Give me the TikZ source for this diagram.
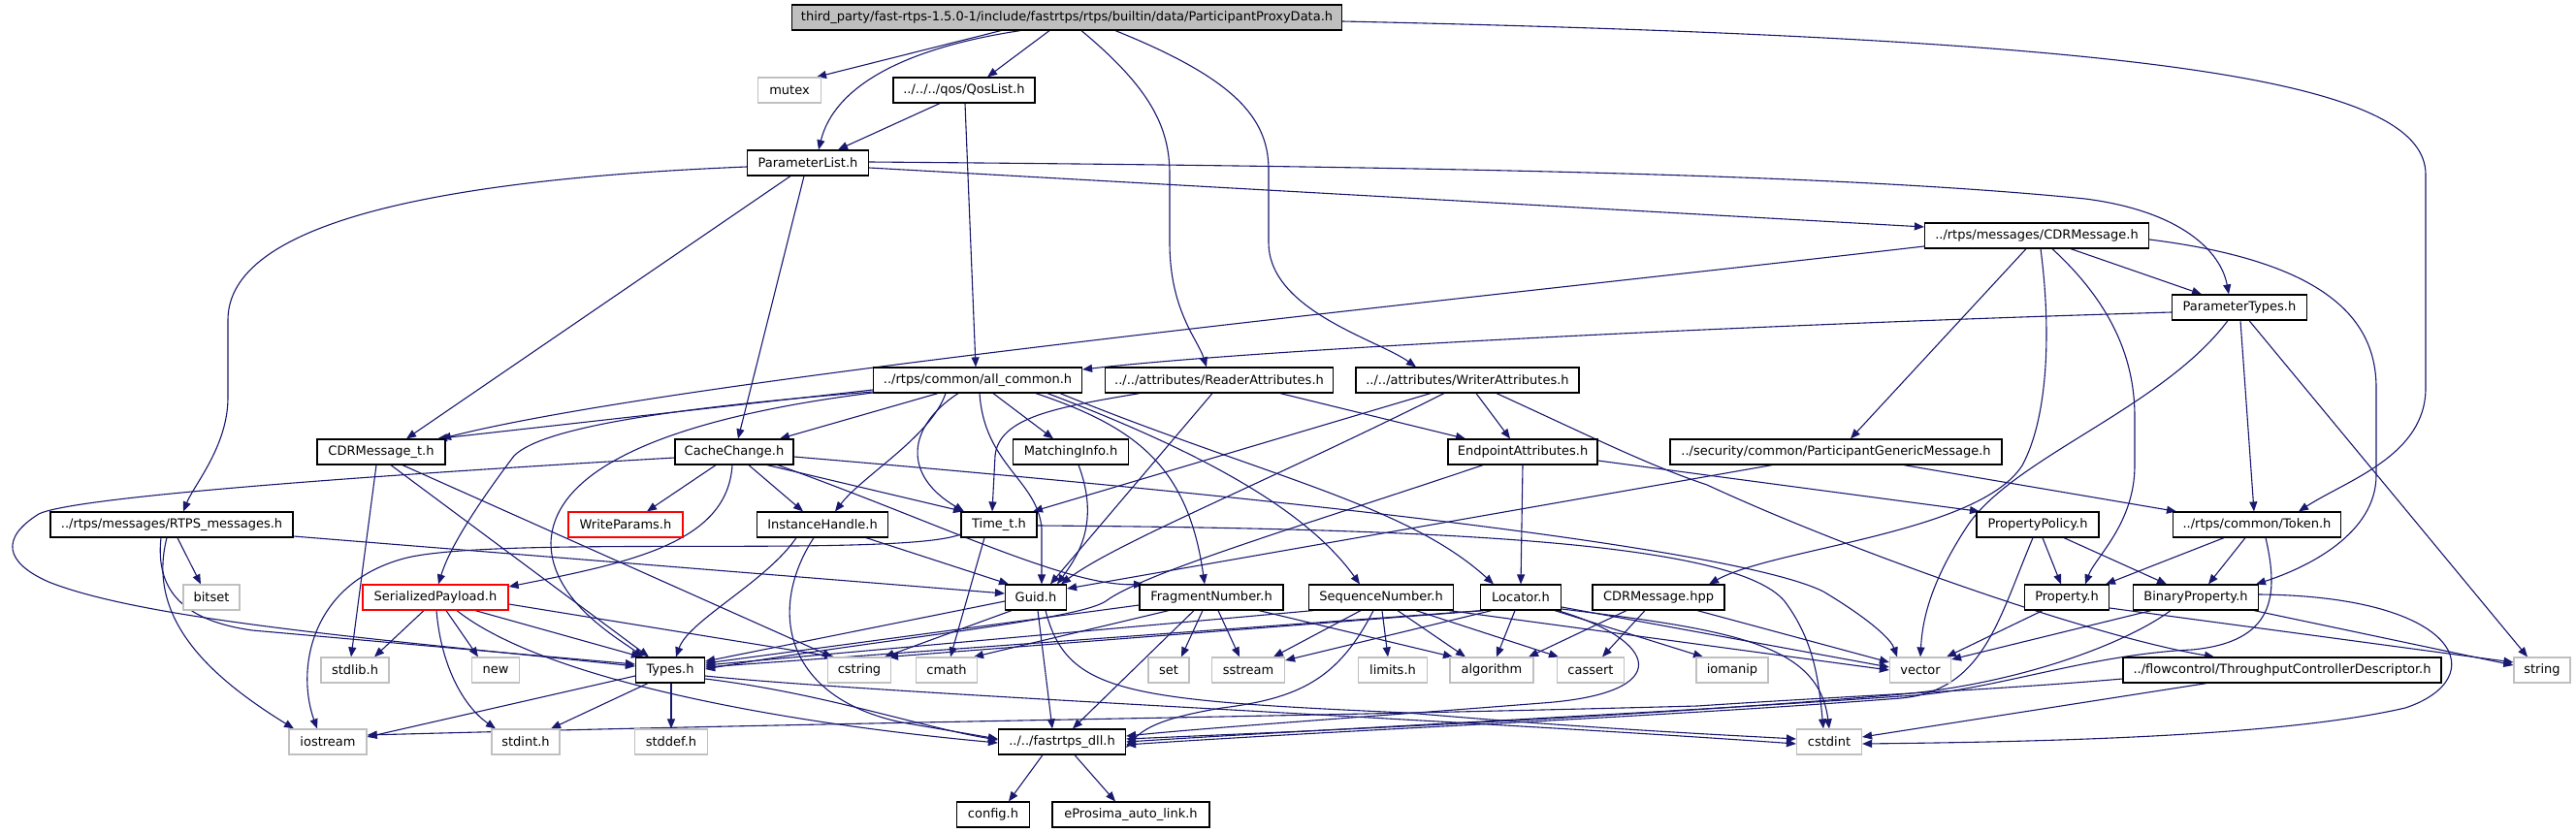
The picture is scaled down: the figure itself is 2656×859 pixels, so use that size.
\documentclass[tikz,border=0pt]{standalone}
\usepackage{fontspec}
\setmainfont{DejaVu Sans}
\usetikzlibrary{arrows.meta,backgrounds}
\definecolor{edgec}{HTML}{191970}
\definecolor{sysgray}{HTML}{C0C0C0}
\definecolor{maingray}{HTML}{BFBFBF}
\definecolor{redb}{HTML}{FF0000}
\begin{document}
\begin{tikzpicture}[x=1pt,y=-1pt,
  hbox/.style={draw=black, line width=1.2pt, fill=white, minimum height=26pt, inner sep=0pt, font=\fontsize{13}{15}\selectfont, text=black},
  sysbox/.style={hbox, draw=sysgray},
  redbox/.style={hbox, draw=redb},
  mainbox/.style={hbox, fill=maingray},
  dep/.style={draw=edgec, line width=1.1pt, -{Triangle[length=10pt,width=8pt]}}]
\useasboundingbox (0,0) rectangle (2656,859);
% ---------------- nodes
\node[mainbox, minimum width=567pt] (main) at (1100,18) {third\_party/fast-rtps-1.5.0-1/include/fastrtps/rtps/builtin/data/ParticipantProxyData.h};
\node[sysbox, minimum width=65pt] (mutex) at (814,93) {mutex};
\node[hbox, minimum width=146pt] (qos) at (994,93) {../../../qos/QosList.h};
\node[hbox, minimum width=125pt] (plist) at (833,168) {ParameterList.h};
\node[hbox, minimum width=231pt] (cdrmsg) at (2100,243) {../rtps/messages/CDRMessage.h};
\node[hbox, minimum width=139pt] (ptypes) at (2309,317) {ParameterTypes.h};
\node[hbox, minimum width=215pt] (allc) at (1008,392) {../rtps/common/all\_common.h};
\node[hbox, minimum width=235pt] (rattr) at (1257,392) {../../attributes/ReaderAttributes.h};
\node[hbox, minimum width=230pt] (wattr) at (1513,392) {../../attributes/WriterAttributes.h};
\node[hbox, minimum width=132pt] (cdrt) at (393,466) {CDRMessage\_t.h};
\node[hbox, minimum width=122pt] (cc) at (757,466) {CacheChange.h};
\node[hbox, minimum width=119pt] (mi) at (1104,466) {MatchingInfo.h};
\node[hbox, minimum width=154pt] (eattr) at (1570,466) {EndpointAttributes.h};
\node[hbox, minimum width=342pt] (pgm) at (1893,466) {../security/common/ParticipantGenericMessage.h};
\node[hbox, minimum width=250pt] (rtps) at (177,541) {../rtps/messages/RTPS\_messages.h};
\node[redbox, minimum width=118pt] (wp) at (645,541) {WriteParams.h};
\node[hbox, minimum width=135pt] (ih) at (848,541) {InstanceHandle.h};
\node[hbox, minimum width=78pt] (timet) at (1030,541) {Time\_t.h};
\node[hbox, minimum width=126pt] (pp) at (2101,541) {PropertyPolicy.h};
\node[hbox, minimum width=173pt] (token) at (2327,541) {../rtps/common/Token.h};
\node[sysbox, minimum width=58pt] (bitset) at (218,616) {bitset};
\node[redbox, minimum width=150pt] (sp) at (449,616) {SerializedPayload.h};
\node[hbox, minimum width=63pt] (guid) at (1068,616) {Guid.h};
\node[hbox, minimum width=148pt] (frag) at (1249,616) {FragmentNumber.h};
\node[hbox, minimum width=149pt] (seq) at (1424,616) {SequenceNumber.h};
\node[hbox, minimum width=83pt] (loc) at (1568,616) {Locator.h};
\node[hbox, minimum width=136pt] (hpp) at (1710,616) {CDRMessage.hpp};
\node[hbox, minimum width=87pt] (prop) at (2131,616) {Property.h};
\node[hbox, minimum width=129pt] (bprop) at (2264,616) {BinaryProperty.h};
\node[sysbox, minimum width=70pt] (stdlib) at (366,691) {stdlib.h};
\node[sysbox, minimum width=49pt] (nnew) at (511,691) {new};
\node[hbox, minimum width=71pt] (types) at (691,691) {Types.h};
\node[sysbox, minimum width=65pt] (cstring) at (886,691) {cstring};
\node[sysbox, minimum width=63pt] (cmath) at (976,691) {cmath};
\node[sysbox, minimum width=42pt] (nset) at (1205,691) {set};
\node[sysbox, minimum width=75pt] (sstream) at (1287,691) {sstream};
\node[sysbox, minimum width=71pt] (limits) at (1436,691) {limits.h};
\node[sysbox, minimum width=86pt] (algo) at (1538,691) {algorithm};
\node[sysbox, minimum width=69pt] (cassert) at (1640,691) {cassert};
\node[sysbox, minimum width=74pt] (iomanip) at (1786,691) {iomanip};
\node[sysbox, minimum width=63pt] (vector) at (1980,691) {vector};
\node[hbox, minimum width=328pt] (tcd) at (2353,691) {../flowcontrol/ThroughputControllerDescriptor.h};
\node[sysbox, minimum width=58pt] (nstring) at (2621,691) {string};
\node[sysbox, minimum width=80pt] (iostream) at (338,765) {iostream};
\node[sysbox, minimum width=70pt] (stdint) at (542,765) {stdint.h};
\node[sysbox, minimum width=75pt] (stddef) at (692,765) {stddef.h};
\node[hbox, minimum width=131pt] (dll) at (1095,765) {../../fastrtps\_dll.h};
\node[sysbox, minimum width=67pt] (cstdint) at (1886,765) {cstdint};
\node[hbox, minimum width=75pt] (config) at (1024,840) {config.h};
\node[hbox, minimum width=162pt] (eauto) at (1166,840) {eProsima\_auto\_link.h};
% ---------------- edges
\begin{pgfonlayer}{background}
\fill[white] (0,0) rectangle (2656,859);
% main
\draw[dep] ([xshift=-68pt]main.south) -- ([xshift=28pt]mutex.north);
\draw[dep] ([xshift=-48pt]main.south) .. controls (930,50) and (860,90) .. ([xshift=11pt]plist.north);
\draw[dep] ([xshift=-18pt]main.south) -- ([xshift=24pt]qos.north);
\draw[dep] ([xshift=15pt]main.south) .. controls (1185,90) and (1206,130) .. (1206,180) -- (1206,250) .. controls (1206,320) and (1235,350) .. ([xshift=-13pt]rattr.north);
\draw[dep] ([xshift=50pt]main.south) .. controls (1270,80) and (1308,120) .. (1308,175) -- (1308,250) .. controls (1308,320) and (1420,350) .. ([xshift=-53pt]wattr.north);
\draw[dep] ([yshift=-4pt]main.east) .. controls (2200,40) and (2501,80) .. (2501,180) -- (2501,400) .. controls (2501,470) and (2420,495) .. ([xshift=43pt]token.north);
% qos
\draw[dep] ([xshift=-25pt]qos.south) -- ([xshift=31pt]plist.north);
\draw[dep] ([xshift=1pt]qos.south) -- ([xshift=-2pt]allc.north);
% ParameterList
\draw[dep] ([yshift=1pt]plist.east) .. controls (1500,172) and (1900,180) .. (2150,205) .. controls (2250,218) and (2290,260) .. ([xshift=-11pt]ptypes.north);
\draw[dep] ([yshift=-5pt]plist.east) -- ([yshift=9pt]cdrmsg.west);
\draw[dep] ([yshift=-4pt]plist.west) .. controls (450,185) and (235,230) .. (235,330) -- (235,410) .. controls (235,460) and (200,500) .. ([xshift=12pt]rtps.north);
\draw[dep] ([xshift=-18pt]plist.south) -- ([xshift=26pt]cdrt.north);
\draw[dep] ([xshift=-4pt]plist.south) -- ([xshift=4pt]cc.north);
% CDRMessage.h
\draw[dep] ([yshift=-11pt]cdrmsg.west) .. controls (1500,310) and (700,390) .. ([xshift=62pt]cdrt.north);
\draw[dep] ([xshift=35pt]cdrmsg.south) -- ([xshift=-39pt]ptypes.north);
\draw[dep] ([xshift=-11pt]cdrmsg.south) -- ([xshift=15pt]pgm.north);
\draw[dep] ([xshift=4pt]cdrmsg.south) .. controls (2115,340) and (2112,430) .. (2085,480) .. controls (2040,550) and (1830,565) .. ([xshift=52pt]hpp.north);
\draw[dep] ([xshift=16pt]cdrmsg.south) .. controls (2185,320) and (2201,380) .. (2201,430) -- (2201,480) .. controls (2201,540) and (2160,575) .. ([xshift=19pt]prop.north);
\draw[dep] ([yshift=-4pt]cdrmsg.east) .. controls (2400,270) and (2450,330) .. (2450,400) -- (2450,490) .. controls (2450,550) and (2380,585) .. ([xshift=62pt]bprop.north);
% ParameterTypes
\draw[dep] ([yshift=-5pt]ptypes.west) .. controls (1800,335) and (1300,360) .. ([yshift=11pt]allc.east);
\draw[dep] ([xshift=-12pt]ptypes.south) .. controls (2230,420) and (2080,470) .. (2030,540) .. controls (1990,600) and (1982,640) .. (vector.north);
\draw[dep] ([xshift=1pt]ptypes.south) -- ([xshift=-3pt]token.north);
\draw[dep] ([xshift=10pt]ptypes.south) -- ([xshift=-15pt]nstring.north);
% all_common
\draw[dep] ([yshift=-10pt]allc.west) -- ([xshift=58pt]cdrt.north);
\draw[dep] ([yshift=-12pt]allc.west) .. controls (700,420) and (560,440) .. (530,470) .. controls (500,510) and (465,560) .. ([xshift=3pt]sp.north);
\draw[dep] ([yshift=-13pt]allc.west) .. controls (700,430) and (570,480) .. (568,560) .. controls (568,620) and (640,660) .. ([xshift=-28pt]types.north);
\draw[dep] ([xshift=-41pt]allc.south) -- ([xshift=47pt]cc.north);
\draw[dep] ([xshift=-33pt]allc.south) .. controls (960,450) and (890,490) .. ([xshift=13pt]ih.north);
\draw[dep] ([xshift=-20pt]allc.south) .. controls (935,440) and (930,490) .. ([xshift=-36pt]timet.north);
\draw[dep] ([xshift=2pt]allc.south) .. controls (1015,480) and (1070,495) .. (1074,545) -- ([xshift=6pt]guid.north);
\draw[dep] ([xshift=16pt]allc.south) -- ([xshift=-18pt]mi.north);
\draw[dep] ([xshift=60pt]allc.south) .. controls (1170,440) and (1225,480) .. ([xshift=-7pt]frag.north);
\draw[dep] ([xshift=72pt]allc.south) .. controls (1250,470) and (1350,530) .. ([xshift=-22pt]seq.north);
\draw[dep] ([xshift=85pt]allc.south) .. controls (1300,490) and (1450,520) .. ([xshift=-28pt]loc.north);
% ReaderAttributes
\draw[dep] ([xshift=-82pt]rattr.south) .. controls (1090,420) and (1030,430) .. (1026,470) -- ([xshift=-7pt]timet.north);
\draw[dep] ([xshift=-7pt]rattr.south) -- ([xshift=15pt]guid.north);
\draw[dep] ([xshift=63pt]rattr.south) -- ([xshift=-59pt]eattr.north);
% WriterAttributes
\draw[dep] ([xshift=-38pt]wattr.south) -- ([xshift=35pt]timet.north);
\draw[dep] ([xshift=-24pt]wattr.south) .. controls (1300,500) and (1150,560) .. ([xshift=26pt]guid.north);
\draw[dep] ([xshift=9pt]wattr.south) -- ([xshift=-13pt]eattr.north);
\draw[dep] ([xshift=30pt]wattr.south) .. controls (1640,450) and (1700,480) .. (1760,500) .. controls (1900,565) and (2150,655) .. ([xshift=-70pt]tcd.north);
% EndpointAttributes
\draw[dep] (eattr.south) -- (loc.north);
\draw[dep] ([yshift=-9pt]eattr.east) -- ([xshift=-60pt]pp.north);
\draw[dep] ([xshift=-41pt]eattr.south) .. controls (1350,540) and (1180,590) .. (1140,620) .. controls (1110,640) and (900,660) .. ([yshift=1pt]types.east);
% ParticipantGenericMessage
\draw[dep] ([xshift=-66pt]pgm.south) -- ([yshift=9pt]guid.east);
\draw[dep] ([xshift=70pt]pgm.south) -- ([xshift=-83pt]token.north);
% PropertyPolicy
\draw[dep] ([xshift=5pt]pp.south) -- ([xshift=-6pt]prop.north);
\draw[dep] ([xshift=27pt]pp.south) -- ([xshift=-30pt]bprop.north);
\draw[dep] ([xshift=-5pt]pp.south) .. controls (2060,640) and (2045,712) .. (1960,720) .. controls (1700,740) and (1400,752) .. ([yshift=-3pt]dll.east);
% Token
\draw[dep] ([xshift=-34pt]token.south) -- ([xshift=40pt]prop.north);
\draw[dep] ([xshift=-12pt]token.south) -- ([xshift=13pt]bprop.north);
\draw[dep] ([xshift=9pt]token.south) .. controls (2350,615) and (2345,662) .. (2260,670) .. controls (2150,675) and (2050,714) .. (1960,718) .. controls (1700,736) and (1400,750) .. (dll.east);
% Property / BinaryProperty
\draw[dep] ([xshift=-25pt]prop.south) -- ([xshift=27pt]vector.north);
\draw[dep] ([yshift=-11pt]prop.east) -- ([yshift=8pt]nstring.west);
\draw[dep] ([xshift=-46pt]bprop.south) -- ([yshift=11pt]vector.east);
\draw[dep] ([xshift=60pt]bprop.south) -- ([yshift=5pt]nstring.west);
\draw[dep] ([yshift=3pt]bprop.east) .. controls (2540,615) and (2570,700) .. (2480,730) .. controls (2350,760) and (2100,765) .. ([yshift=-2pt]cstdint.east);
\draw[dep] ([xshift=-26pt]bprop.south) .. controls (2190,665) and (2080,705) .. (1960,716) .. controls (1700,738) and (1400,752) .. ([yshift=3pt]dll.east);
% ThroughputControllerDescriptor
\draw[dep] ([xshift=-78pt]tcd.south) -- ([yshift=5pt]cstdint.east);
\draw[dep] ([yshift=-9pt]tcd.west) .. controls (2050,712) and (1900,718) .. (1750,728) .. controls (1300,740) and (900,744) .. ([yshift=7pt]iostream.east);
% CDRMessage.hpp
\draw[dep] ([xshift=-33pt]hpp.south) -- ([xshift=38pt]algo.north);
\draw[dep] ([xshift=-14pt]hpp.south) -- ([xshift=12pt]cassert.north);
\draw[dep] ([xshift=40pt]hpp.south) -- ([yshift=8pt]vector.west);
% Locator
\draw[dep] ([xshift=-40pt]loc.south) -- ([yshift=3pt]types.east);
\draw[dep] ([xshift=-38pt]loc.south) -- ([xshift=30pt]cstring.north);
\draw[dep] ([xshift=-30pt]loc.south) -- ([yshift=10pt]sstream.east);
\draw[dep] ([xshift=-6pt]loc.south) -- ([xshift=5pt]algo.north);
\draw[dep] ([xshift=35pt]loc.south) -- ([xshift=-30pt]iomanip.north);
\draw[dep] ([yshift=-10pt]loc.east) -- ([yshift=3pt]vector.west);
\draw[dep] ([yshift=-12pt]loc.east) .. controls (1790,650) and (1875,665) .. ([xshift=0pt]cstdint.north);
\draw[dep] ([xshift=38pt]loc.south) .. controls (1710,660) and (1730,715) .. (1590,725) .. controls (1400,740) and (1250,750) .. ([yshift=6pt]dll.east);
% SequenceNumber
\draw[dep] ([xshift=-70pt]seq.south) -- ([yshift=5pt]types.east);
\draw[dep] ([xshift=-21pt]seq.south) -- ([xshift=26pt]sstream.north);
\draw[dep] ([xshift=1pt]seq.south) -- ([xshift=-5pt]limits.north);
\draw[dep] ([xshift=17pt]seq.south) -- ([xshift=-27pt]algo.north);
\draw[dep] ([xshift=36pt]seq.south) -- ([xshift=-33pt]cassert.north);
\draw[dep] ([xshift=70pt]seq.south) -- (vector.west);
\draw[dep] ([xshift=-8pt]seq.south) .. controls (1380,700) and (1340,720) .. (1260,730) .. controls (1200,740) and (1180,750) .. ([yshift=-6pt]dll.east);
% FragmentNumber
\draw[dep] ([yshift=-8pt]frag.west) -- ([yshift=7pt]types.east);
\draw[dep] ([xshift=-9pt]frag.south) -- ([xshift=13pt]nset.north);
\draw[dep] ([xshift=7pt]frag.south) -- ([xshift=-9pt]sstream.north);
\draw[dep] ([xshift=49pt]frag.south) -- ([xshift=-40pt]algo.north);
\draw[dep] ([xshift=-18pt]frag.south) -- ([xshift=11pt]dll.north);
\draw[dep] ([xshift=-44pt]frag.south) -- ([xshift=28pt]cmath.north);
% Guid
\draw[dep] ([yshift=-4pt]guid.west) -- ([yshift=9pt]types.east);
\draw[dep] ([xshift=-25pt]guid.south) -- ([xshift=26pt]cstring.north);
\draw[dep] ([xshift=2pt]guid.south) -- ([xshift=-10pt]dll.north);
\draw[dep] ([xshift=10pt]guid.south) .. controls (1100,715) and (1160,722) .. (1450,735) .. controls (1650,752) and (1780,758) .. ([yshift=3pt]cstdint.west);
% Time_t
\draw[dep] ([yshift=-10pt]timet.west) .. controls (930,575) and (520,552) .. (420,575) .. controls (320,600) and (305,690) .. ([xshift=-11pt]iostream.north);
\draw[dep] ([xshift=-15pt]timet.south) -- ([xshift=4pt]cmath.north);
\draw[dep] ([yshift=-1pt]timet.east) .. controls (1500,545) and (1790,560) .. (1840,620) .. controls (1870,660) and (1875,700) .. ([xshift=-6pt]cstdint.north);
% InstanceHandle
\draw[dep] ([xshift=-27pt]ih.south) .. controls (790,600) and (710,640) .. ([xshift=6pt]types.north);
\draw[dep] ([xshift=45pt]ih.south) -- ([xshift=-28pt]guid.north);
\draw[dep] ([xshift=-9pt]ih.south) .. controls (790,630) and (810,720) .. (930,745) -- ([yshift=3pt]dll.west);
% MatchingInfo
\draw[dep] ([xshift=8pt]mi.south) .. controls (1135,540) and (1110,575) .. ([xshift=22pt]guid.north);
% CacheChange
\draw[dep] ([xshift=-19pt]cc.south) -- ([xshift=22pt]wp.north);
\draw[dep] ([xshift=-2pt]cc.south) .. controls (750,560) and (650,580) .. ([yshift=11pt]sp.east);
\draw[dep] ([xshift=15pt]cc.south) -- ([xshift=-20pt]ih.north);
\draw[dep] ([xshift=34pt]cc.south) -- ([xshift=-37pt]timet.north);
\draw[dep] ([xshift=45pt]cc.south) .. controls (970,540) and (1100,605) .. ([xshift=-70pt]frag.north);
\draw[dep] ([yshift=-6pt]cc.west) .. controls (300,495) and (70,515) .. (40,530) .. controls (0,555) and (5,580) .. (50,600) .. controls (150,640) and (400,660) .. ([yshift=4pt]types.west);
\draw[dep] ([yshift=-5pt]cc.east) .. controls (1400,520) and (1800,570) .. (1880,610) .. controls (1930,640) and (1950,660) .. ([xshift=-24pt]vector.north);
% CDRMessage_t
\draw[dep] ([xshift=-5pt]cdrt.south) -- ([xshift=-4pt]stdlib.north);
\draw[dep] ([xshift=10pt]cdrt.south) -- ([xshift=-22pt]types.north);
\draw[dep] ([xshift=22pt]cdrt.south) -- ([xshift=-28pt]cstring.north);
% RTPS_messages
\draw[dep] ([xshift=6pt]rtps.south) -- ([xshift=-11pt]bitset.north);
\draw[dep] ([xshift=-11pt]rtps.south) .. controls (160,610) and (190,640) .. (260,650) -- ([yshift=6pt]types.west);
\draw[dep] ([xshift=-5pt]rtps.south) .. controls (150,640) and (220,700) .. ([xshift=-35pt]iostream.north);
\draw[dep] ([yshift=-12pt]rtps.east) -- ([yshift=4pt]guid.west);
% SerializedPayload
\draw[dep] ([xshift=-12pt]sp.south) -- ([xshift=20pt]stdlib.north);
\draw[dep] ([xshift=11pt]sp.south) -- ([xshift=-18pt]nnew.north);
\draw[dep] ([xshift=41pt]sp.south) -- ([xshift=-30pt]types.north);
\draw[dep] ([xshift=1pt]sp.south) .. controls (455,690) and (480,730) .. ([xshift=-31pt]stdint.north);
\draw[dep] ([yshift=-7pt]sp.east) -- ([xshift=-26pt]cstring.north);
\draw[dep] ([xshift=22pt]sp.south) .. controls (560,700) and (800,745) .. ([yshift=-1pt]dll.west);
% Types
\draw[dep] ([yshift=-6pt]types.west) -- ([yshift=5pt]iostream.east);
\draw[dep] ([xshift=-23pt]types.south) -- ([xshift=26pt]stdint.north);
\draw[dep] ([xshift=1pt]types.south) -- (stddef.north);
\draw[dep] ([yshift=-9pt]types.east) .. controls (850,715) and (950,750) .. ([yshift=2pt]dll.west);
\draw[dep] ([yshift=-6pt]types.east) .. controls (900,715) and (1500,742) .. ([yshift=-2pt]cstdint.west);
% fastrtps_dll
\draw[dep] ([xshift=-20pt]dll.south) -- ([xshift=16pt]config.north);
\draw[dep] ([xshift=13pt]dll.south) -- ([xshift=-16pt]eauto.north);
\end{pgfonlayer}
\end{tikzpicture}
\end{document}
